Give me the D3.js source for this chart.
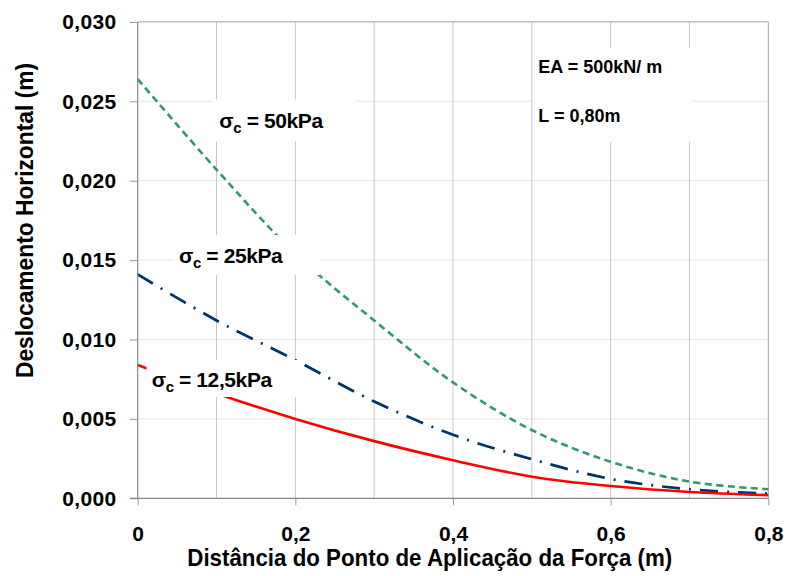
<!DOCTYPE html>
<html>
<head>
<meta charset="utf-8">
<script src="https://cdn.jsdelivr.net/npm/d3@7"></script>
<style>
  html, body { margin: 0; padding: 0; background: #fff; }
  svg { display: block; font-family: "Liberation Sans", Arial, sans-serif; }
</style>
</head>
<body>
<svg id="chart" width="788" height="576"></svg>
<script>
// ---- data ----
const distances = [0, 0.1, 0.2, 0.3, 0.4, 0.5, 0.6, 0.7, 0.8];
const sigma50  = [0.0264, 0.0207, 0.0154, 0.0112, 0.0073, 0.0043, 0.0023, 0.00105, 0.00057];
const sigma25  = [0.0141, 0.0112, 0.0087, 0.0061, 0.0040, 0.00246, 0.00122, 0.00057, 0.0003];
const sigma125 = [0.0084, 0.0066, 0.0050, 0.0036, 0.0024, 0.00136, 0.00077, 0.0004, 0.0002];
const yTicks = [0, 0.005, 0.010, 0.015, 0.020, 0.025, 0.030];
const yTickLabels = ["0,000", "0,005", "0,010", "0,015", "0,020", "0,025", "0,030"];
const xGrid = [0.1, 0.2, 0.3, 0.4, 0.5, 0.6, 0.7, 0.8];
const xTicks = [0, 0.2, 0.4, 0.6, 0.8];
const xTickLabels = ["0", "0,2", "0,4", "0,6", "0,8"];
const seriesNames = ["50kPa", "25kPa", "12,5kPa"];
const xTitle = "Distância do Ponto de Aplicação da Força (m)";
const yTitle = "Deslocamento Horizontal (m)";
const noteLines = ["EA = 500kN/ m", "L = 0,80m"];

// ---- layout ----
const X0 = 137.7, X1 = 768.3, Y0 = 498.3, Y1 = 21.9;
const x = d3.scaleLinear().domain([0, 0.8]).range([X0, X1]);
const y = d3.scaleLinear().domain([0, 0.03]).range([Y0, Y1]);
const svg = d3.select("#chart");

// horizontal gridlines
svg.append("g").selectAll("line").data(yTicks.filter(v => v > 0 && v < 0.03)).join("line")
  .attr("x1", X0).attr("x2", X1).attr("y1", d => y(d)).attr("y2", d => y(d))
  .attr("stroke", "#e6e6e6").attr("stroke-width", 1);
// vertical gridlines
svg.append("g").selectAll("line").data(xGrid.filter(v => v < 0.8)).join("line")
  .attr("x1", d => x(d)).attr("x2", d => x(d)).attr("y1", Y1).attr("y2", Y0)
  .attr("stroke", "#c8c8c8").attr("stroke-width", 1);
// plot border top / right
svg.append("path")
  .attr("d", `M${X0},${Y1}H${X1}V${Y0}`)
  .attr("fill", "none").attr("stroke", "#a0a0a0").attr("stroke-width", 1);

// ---- curves ----
const line = d3.line().x((d, i) => x(distances[i])).y(d => y(d)).curve(d3.curveCatmullRom.alpha(0.5));
const seriesData = [sigma50, sigma25, sigma125];
const styles = [
  { color: "#339966", dash: "7,4.5", width: 2.6 },
  { color: "#003366", dash: "18,9,2,9", width: 2.7 },
  { color: "#ff0000", dash: null, width: 2.6 }
];
seriesData.forEach((s, i) => {
  svg.append("path").datum(s)
    .attr("d", line)
    .attr("fill", "none")
    .attr("stroke", styles[i].color)
    .attr("stroke-width", styles[i].width)
    .attr("stroke-dasharray", styles[i].dash);
});

// ---- axes ----
const yAxis = d3.axisLeft(y).tickValues(yTicks).tickSize(7.7).tickPadding(13.3)
  .tickFormat((d, i) => yTickLabels[i]);
const gy = svg.append("g").attr("transform", `translate(${X0},0)`).call(yAxis);
gy.select(".domain").remove();
gy.selectAll(".tick line").attr("stroke", "#9a9a9a");
gy.selectAll(".tick text").attr("font-size", 21).attr("font-weight", "bold")
  .attr("fill", "#000").attr("font-family", "Liberation Sans, Arial, sans-serif")
  .attr("letter-spacing", 0.4);

const xAxis = d3.axisBottom(x).tickValues(xTicks).tickSize(7).tickPadding(21)
  .tickFormat((d, i) => xTickLabels[i]);
const gx = svg.append("g").attr("transform", `translate(0,${Y0})`).call(xAxis);
gx.select(".domain").remove();
gx.selectAll(".tick line").attr("stroke", "#9a9a9a");
gx.selectAll(".tick text").attr("font-size", 21).attr("font-weight", "bold")
  .attr("fill", "#000").attr("font-family", "Liberation Sans, Arial, sans-serif");

// axis lines
svg.append("line").attr("x1", X0).attr("x2", X0).attr("y1", Y1).attr("y2", Y0 + 0.5)
  .attr("stroke", "#888").attr("stroke-width", 1.2);
svg.append("line").attr("x1", 130).attr("x2", X1).attr("y1", Y0).attr("y2", Y0)
  .attr("stroke", "#888").attr("stroke-width", 1.2);

// ---- label boxes (white backgrounds) ----
const boxes = [
  { x0: 213, x1: 356, y0: 99.5, y1: 141.5 },
  { x0: 174, x1: 320, y0: 235, y1: 275 },
  { x0: 146.5, x1: 300, y0: 360, y1: 397 },
  { x0: 533, x1: 692, y0: 48, y1: 142 }
];
svg.append("g").selectAll("rect").data(boxes).join("rect")
  .attr("x", d => d.x0).attr("y", d => d.y0)
  .attr("width", d => d.x1 - d.x0).attr("height", d => d.y1 - d.y0)
  .attr("fill", "#fff");

// series labels
const labelPos = [
  { x: 219.3, y: 128.3 },
  { x: 179, y: 263 },
  { x: 151.7, y: 386.7 }
];
seriesNames.forEach((name, i) => {
  const t = svg.append("text")
    .attr("x", labelPos[i].x).attr("y", labelPos[i].y)
    .attr("font-size", 21).attr("font-weight", "bold").attr("fill", "#000")
    .attr("letter-spacing", -0.4);
  t.append("tspan").text("σ");
  t.append("tspan").attr("font-size", 15).attr("dy", 5).text("c");
  t.append("tspan").attr("dy", -5).text(" = " + name);
});

// note
noteLines.forEach((s, i) => {
  svg.append("text").attr("x", 538.3).attr("y", i === 0 ? 72.7 : 121.7)
    .attr("font-size", 18).attr("font-weight", "bold").attr("fill", "#000")
    .text(s);
});

// ---- titles ----
svg.append("text")
  .attr("x", 187.3).attr("y", 566)
  .attr("font-size", 23).attr("font-weight", "bold").attr("fill", "#000")
  .attr("textLength", 485).attr("lengthAdjust", "spacingAndGlyphs")
  .text(xTitle);
svg.append("text")
  .attr("transform", "translate(33.3,378) rotate(-90)")
  .attr("x", 0).attr("y", 0)
  .attr("font-size", 24).attr("font-weight", "bold").attr("fill", "#000")
  .attr("textLength", 315).attr("lengthAdjust", "spacingAndGlyphs")
  .text(yTitle);
</script>
</body>
</html>
